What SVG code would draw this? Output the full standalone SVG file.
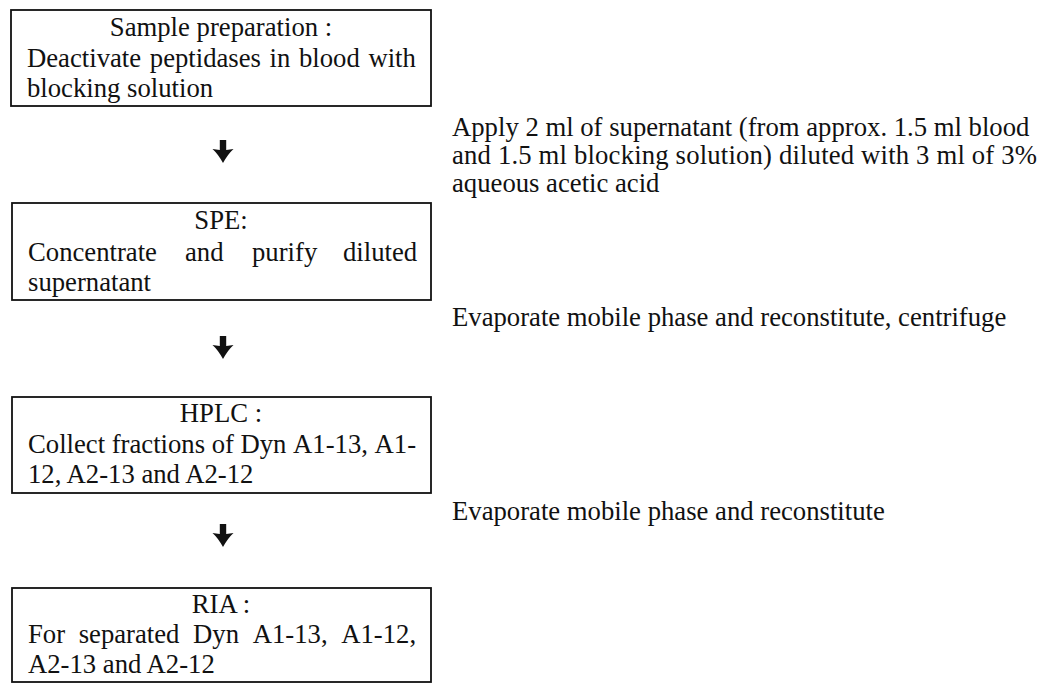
<svg xmlns="http://www.w3.org/2000/svg" width="1042" height="684" viewBox="0 0 1042 684">
<style>
text{font-family:"Liberation Serif","Times New Roman",serif;font-size:26.7px;fill:#111}
.box{fill:#fff;stroke:#111;stroke-width:1.8}
.hd{text-anchor:middle}
.arr{fill:#111}
</style>
<defs>
<path id="arrow" d="M-3.2,0 L3.2,0 L3.2,10 Q7,9.5 10.5,9 Q5,14 0,23 Q-5,14 -10.5,9 Q-7,9.5 -3.2,10 Z"/>
</defs>
<rect width="1042" height="684" fill="#fff"/>
<g id="n1">
<rect class="box" x="11" y="10" width="420" height="96"/>
<text class="hd" x="221" y="36">Sample preparation :</text>
<text y="67"><tspan x="27">Deactivate</tspan><tspan x="149.8">peptidases</tspan><tspan x="269.6">in</tspan><tspan x="299">blood</tspan><tspan x="368.4">with</tspan></text>
<text x="27" y="97">blocking solution</text>
</g>
<g id="n2">
<rect class="box" x="12" y="203" width="419" height="97"/>
<text class="hd" x="221" y="229">SPE:</text>
<text y="261"><tspan x="28">Concentrate</tspan><tspan x="185">and</tspan><tspan x="252">purify</tspan><tspan x="343">diluted</tspan></text>
<text x="28" y="291">supernatant</text>
</g>
<g id="n3">
<rect class="box" x="12" y="397" width="419" height="96"/>
<text class="hd" x="221" y="422">HPLC :</text>
<text y="453"><tspan x="28">Collect</tspan><tspan x="111.7">fractions</tspan><tspan x="211.7">of</tspan><tspan x="240.5">Dyn</tspan><tspan x="293.1">A1-13,</tspan><tspan x="374.6">A1-</tspan></text>
<text x="28" y="483">12, A2-13 and A2-12</text>
</g>
<g id="n4">
<rect class="box" x="12" y="588" width="419" height="94"/>
<text class="hd" x="221" y="613">RIA :</text>
<text y="643"><tspan x="28">For</tspan><tspan x="78.7">separated</tspan><tspan x="193.1">Dyn</tspan><tspan x="252.7">A1-13,</tspan><tspan x="341.2">A1-12,</tspan></text>
<text x="28" y="673">A2-13 and A2-12</text>
</g>
<g id="labels">
<text x="452" y="136">Apply 2 ml of supernatant (from approx. 1.5 ml blood</text>
<text x="452" y="164" textLength="585" lengthAdjust="spacing">and 1.5 ml blocking solution) diluted with 3 ml of 3%</text>
<text x="452" y="192">aqueous acetic acid</text>
<text x="452" y="326">Evaporate mobile phase and reconstitute, centrifuge</text>
<text x="452" y="520">Evaporate mobile phase and reconstitute</text>
</g>
<g id="connectors" class="arr">
<use href="#arrow" x="223" y="140"/>
<use href="#arrow" x="223" y="336"/>
<use href="#arrow" x="223" y="524"/>
</g>
</svg>
